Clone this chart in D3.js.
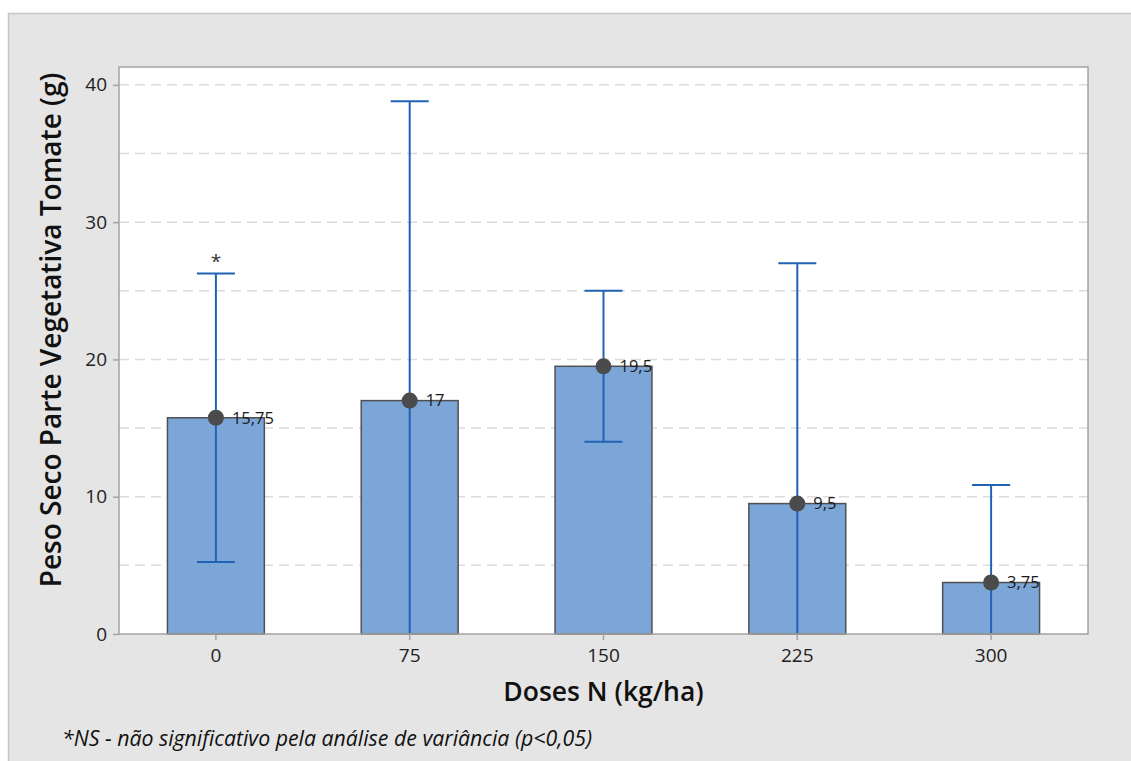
<!DOCTYPE html>
<html>
<head>
<meta charset="utf-8">
<script src="https://cdn.jsdelivr.net/npm/d3@7"></script>
<style>
    body { margin: 0; background: #fff; }
    svg { display: block; font-family: "Open Sans", "Noto Sans", sans-serif; }
</style>
</head>
<body>
<div id="chart"></div>
<script>
const doses = ["0", "75", "150", "225", "300"];
const means = [15.75, 17, 19.5, 9.5, 3.75];
const errors = [10.5, 21.8, 5.5, 17.5, 7.1];
const meanLabels = ["15,75", "17", "19,5", "9,5", "3,75"];
const yTicks = [0, 10, 20, 30, 40];
const gridValues = [5, 10, 15, 20, 25, 30, 35, 40];

const width = 1131, height = 761;
const margin = {top: 67, right: 43, bottom: 127, left: 119};
const innerWidth = width - margin.left - margin.right;
const innerHeight = height - margin.top - margin.bottom;

const svg = d3.select("#chart").append("svg")
    .attr("width", width)
    .attr("height", height);

// grey frame behind the chart
svg.append("rect")
    .attr("x", 8.5).attr("y", 13.5)
    .attr("width", width).attr("height", height)
    .attr("fill", "#e5e5e5")
    .attr("stroke", "#c6c6c6")
    .attr("stroke-width", 1.5);

const chart = svg.append("g")
    .attr("transform", `translate(${margin.left}, ${margin.top})`);

const x = d3.scaleBand()
    .domain(doses)
    .range([0, innerWidth])
    .paddingInner(0.5)
    .paddingOuter(0.25);

const y = d3.scaleLinear()
    .domain([0, 41.3])
    .range([innerHeight, 0]);

chart.append("rect")
    .attr("width", innerWidth)
    .attr("height", innerHeight)
    .attr("fill", "#fff");

chart.append("g")
    .selectAll("line")
    .data(gridValues)
    .enter().append("line")
    .attr("x1", 0).attr("x2", innerWidth)
    .attr("y1", d => y(d)).attr("y2", d => y(d))
    .attr("stroke", "#dcdcdc")
    .attr("stroke-width", 1.5)
    .attr("stroke-dasharray", "10,6");

chart.append("g")
    .selectAll("rect")
    .data(means)
    .enter().append("rect")
    .attr("x", (d, i) => x(doses[i]))
    .attr("y", d => y(d))
    .attr("width", x.bandwidth())
    .attr("height", d => innerHeight - y(d))
    .attr("fill", "#7ca6d8")
    .attr("stroke", "#505050")
    .attr("stroke-width", 1.5);

const cx = i => x(doses[i]) + x.bandwidth() / 2;
const capHalf = 19;

const bars = chart.append("g")
    .attr("stroke", "#2063b4")
    .attr("stroke-width", 2);

means.forEach((m, i) => {
    const hi = m + errors[i];
    const lo = Math.max(0, m - errors[i]);
    bars.append("line")
        .attr("x1", cx(i)).attr("x2", cx(i))
        .attr("y1", y(hi)).attr("y2", y(lo));
    bars.append("line")
        .attr("x1", cx(i) - capHalf).attr("x2", cx(i) + capHalf)
        .attr("y1", y(hi)).attr("y2", y(hi));
    if (m - errors[i] > 0) {
        bars.append("line")
            .attr("x1", cx(i) - capHalf).attr("x2", cx(i) + capHalf)
            .attr("y1", y(lo)).attr("y2", y(lo));
    }
});

chart.append("g")
    .selectAll("circle")
    .data(means)
    .enter().append("circle")
    .attr("cx", (d, i) => cx(i))
    .attr("cy", d => y(d))
    .attr("r", 8)
    .attr("fill", "#4b4b4b");

chart.append("g")
    .selectAll("text")
    .data(means)
    .enter().append("text")
    .attr("x", (d, i) => cx(i) + 16)
    .attr("y", d => y(d))
    .attr("dy", "0.35em")
    .attr("font-size", 16.5)
    .attr("fill", "#1a1a1a")
    .text((d, i) => meanLabels[i]);

chart.append("text")
    .attr("x", cx(0))
    .attr("y", y(means[0] + errors[0]) - 6)
    .attr("text-anchor", "middle")
    .attr("font-size", 19)
    .attr("fill", "#333")
    .text("*");

// plot border
chart.append("rect")
    .attr("width", innerWidth)
    .attr("height", innerHeight)
    .attr("fill", "none")
    .attr("stroke", "#a3a3a3")
    .attr("stroke-width", 1.5);

const yAxis = d3.axisLeft(y)
    .tickValues(yTicks)
    .tickSize(6)
    .tickPadding(6);
const xAxis = d3.axisBottom(x)
    .tickSize(6)
    .tickPadding(9);

chart.append("g")
    .attr("class", "axis")
    .call(yAxis);
chart.append("g")
    .attr("class", "axis")
    .attr("transform", `translate(0, ${innerHeight})`)
    .call(xAxis);

d3.selectAll(".axis > path").style("display", "none");
d3.selectAll(".axis line").attr("stroke", "#a3a3a3").attr("stroke-width", 1.5);
d3.selectAll(".axis text")
    .attr("font-size", 19)
    .attr("fill", "#222")
    .style("font-family", "\"Open Sans\", sans-serif");

svg.append("text")
    .attr("transform", "translate(61, 330) rotate(-90)")
    .attr("text-anchor", "middle")
    .attr("font-size", 28)
    .attr("font-weight", 600)
    .attr("fill", "#111")
    .text("Peso Seco Parte Vegetativa Tomate (g)");

svg.append("text")
    .attr("x", margin.left + innerWidth / 2)
    .attr("y", 701)
    .attr("text-anchor", "middle")
    .attr("font-size", 26.5)
    .attr("font-weight", 600)
    .attr("fill", "#111")
    .text("Doses N (kg/ha)");

svg.append("text")
    .attr("x", 62)
    .attr("y", 746)
    .attr("font-size", 21.3)
    .attr("font-style", "italic")
    .attr("fill", "#111")
    .text("*NS - não significativo pela análise de variância (p<0,05)");
</script>
</body>
</html>
